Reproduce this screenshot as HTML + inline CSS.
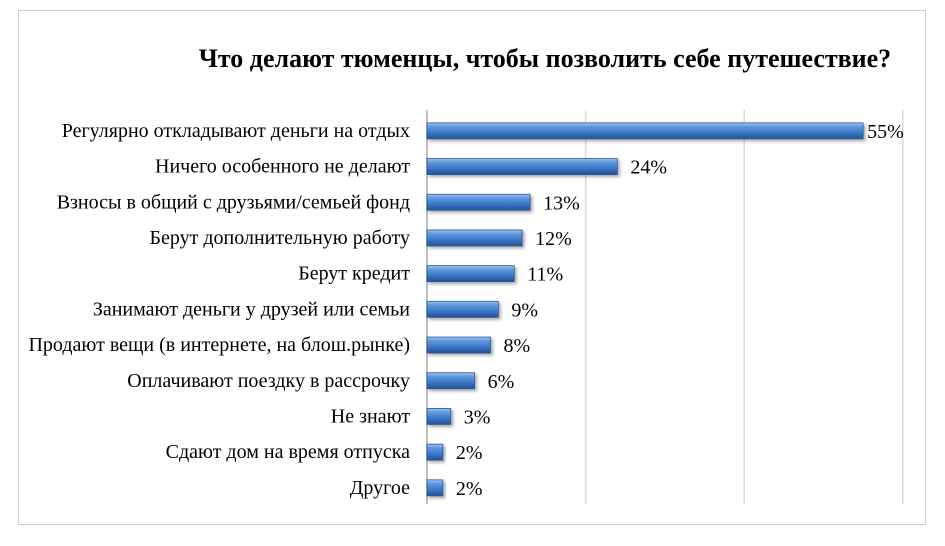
<!DOCTYPE html>
<html><head><meta charset="utf-8"><style>
html,body{margin:0;padding:0;background:#fff;width:945px;height:546px;overflow:hidden}
svg{display:block}
text{font-family:"Liberation Serif","DejaVu Serif",serif;fill:#000}
</style></head><body>
<svg width="945" height="546">
<defs>
<linearGradient id="bg" x1="0" y1="0" x2="0" y2="1">
<stop offset="0" stop-color="#9cc3ee"/><stop offset="0.25" stop-color="#5d97dc"/><stop offset="0.6" stop-color="#3c78c8"/><stop offset="1" stop-color="#24518f"/>
</linearGradient>
<filter id="sh" x="-10%" y="-30%" width="130%" height="180%"><feDropShadow dx="2" dy="2" stdDeviation="1.5" flood-color="#000" flood-opacity="0.35"/></filter>
</defs>
<rect x="18.5" y="10.5" width="907" height="514" fill="#fff" stroke="#d0d0d0"/>
<text x="545" y="67" text-anchor="middle" font-size="26" font-weight="bold">Что делают тюменцы, чтобы позволить себе путешествие?</text>
<g id="grid"></g>
<g id="bars"></g>
</svg>
<script>
const categories=["Регулярно откладывают деньги на отдых","Ничего особенного не делают","Взносы в общий с друзьями/семьей фонд","Берут дополнительную работу","Берут кредит","Занимают деньги у друзей или семьи","Продают вещи (в интернете, на блош.рынке)","Оплачивают поездку в рассрочку","Не знают","Сдают дом на время отпуска","Другое"];
const values=[55,24,13,12,11,9,8,6,3,2,2];
const gridTicks=[0,20,40,60];
const x0=427,pxPer=7.93,yTop=113,step=35.7,bh=16;
const X=v=>x0+v*pxPer;
const Y=i=>yTop+step*(i+0.5);
const ns="http://www.w3.org/2000/svg";
const grid=document.getElementById('grid'),bars=document.getElementById('bars');
gridTicks.forEach(t=>{
 const l=document.createElementNS(ns,'line');
 
 
 l.setAttribute('x1',X(t));l.setAttribute('x2',X(t));l.setAttribute('y1',110);l.setAttribute('y2',504);
 l.setAttribute('stroke',t===0?'#bfbfbf':'#d9d9d9');l.setAttribute('stroke-width',t===0?2:1.5);
 grid.appendChild(l);
});
categories.forEach((c,i)=>{
 const y=Y(i);
 const lab=document.createElementNS(ns,'text');
 
 
 lab.setAttribute('x',410);lab.setAttribute('y',y+6);lab.setAttribute('text-anchor','end');lab.setAttribute('font-size','20');
 lab.textContent=c;bars.appendChild(lab);
 const r=document.createElementNS(ns,'rect');
 
 
 r.setAttribute('x',x0);r.setAttribute('y',y-bh/2);r.setAttribute('width',X(values[i])-x0);r.setAttribute('height',bh);
 r.setAttribute('fill','url(#bg)');r.setAttribute('stroke','#2a5a9a');r.setAttribute('stroke-width','0.8');r.setAttribute('filter','url(#sh)');
 bars.appendChild(r);
 const v=document.createElementNS(ns,'text');
 
 
 v.setAttribute('x',X(values[i])+(values[i]>=50?4:13));v.setAttribute('y',y+7);v.setAttribute('font-size','20');
 v.textContent=values[i]+'%';bars.appendChild(v);
});
</script>
</body></html>
